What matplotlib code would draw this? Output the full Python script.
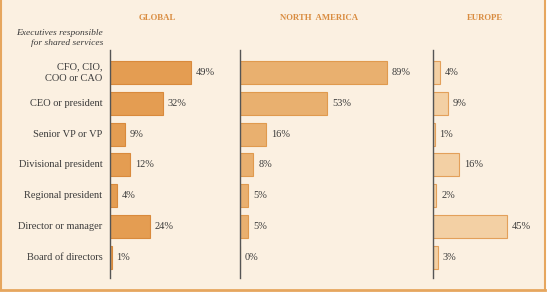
import matplotlib.pyplot as plt
import numpy as np

categories = ['CFO, CIO,\nCOO or CAO', 'CEO or president', 'Senior VP or VP',
              'Divisional president', 'Regional president', 'Director or manager',
              'Board of directors']
global_vals = [49, 32, 9, 12, 4, 24, 1]
na_vals = [89, 53, 16, 8, 5, 5, 0]
europe_vals = [4, 9, 1, 16, 2, 45, 3]
regions = ['GLOBAL', 'NORTH  AMERICA', 'EUROPE']

W, H = 551, 292
fig = plt.figure(figsize=(W / 100, H / 100), dpi=100)
fig.patch.set_facecolor('white')

# cream panel with orange border on left, right, bottom
bg = fig.add_axes([0, 0, 1, 1])
bg.set_xlim(0, W)
bg.set_ylim(H, 0)
bg.axis('off')
bg.add_patch(plt.Rectangle((0, 0), 545, 290, facecolor='#fbf0e1', edgecolor='none'))
bg.plot([1, 1], [0, 290], color='#e6a65e', lw=1.5)
bg.plot([545, 545], [0, 290], color='#e6a65e', lw=1.5)
bg.plot([0, 545], [290, 290], color='#e6a65e', lw=2)

serif = ['Liberation Serif', 'DejaVu Serif']
txt = '#3a3a3a'
hdr = '#d98c40'

px_per_pct = 1.65
top, bottom = 50, 278
panels = [(110, 240, global_vals, '#e49d52', '#d98a3c'),
          (240, 433, na_vals, '#e9b06f', '#e09a4e'),
          (433, 545, europe_vals, '#f3d0a4', '#e3a05a')]
centers = [157, 319, 485]

y = np.arange(len(categories))
for i, (x0, x1, vals, fc, ec) in enumerate(panels):
    ax = fig.add_axes([x0 / W, 1 - bottom / H, (x1 - x0) / W, (bottom - top) / H])
    ax.set_facecolor('none')
    ax.barh(y, vals, height=0.75, color=fc, edgecolor=ec, linewidth=0.8)
    ax.set_xlim(0, (x1 - x0) / px_per_pct)
    ax.set_ylim(6.67, -0.73)
    for s in ['top', 'right', 'bottom']:
        ax.spines[s].set_visible(False)
    ax.spines['left'].set_color('#555555')
    ax.spines['left'].set_linewidth(1)
    ax.set_xticks([])
    ax.set_yticks([])
    for yi, v in zip(y, vals):
        ax.text(v + 3, yi, f'{v}%', va='center', ha='left', fontsize=7.5,
                family=serif, color=txt)
    fig.text(centers[i] / W, 1 - 18 / H, regions[i], ha='center', va='center',
             fontsize=6.3, fontweight='bold', family=serif, color=hdr)
    if i == 0:
        for yi, c in zip(y, categories):
            lines = c.split('\n')
            offs = (np.arange(len(lines)) - (len(lines) - 1) / 2) * 0.36
            for ln, o in zip(lines, offs):
                ax.text(-4.5, yi + o, ln, ha='right', va='center', fontsize=7.5,
                        family=serif, color=txt)

fig.text(103 / W, 1 - 38 / H, 'Executives responsible\nfor shared services',
         ha='right', va='center', fontsize=6.8, style='italic', family=serif,
         color=txt, linespacing=1.25)

plt.savefig('out.png', dpi=100, facecolor=fig.get_facecolor())
